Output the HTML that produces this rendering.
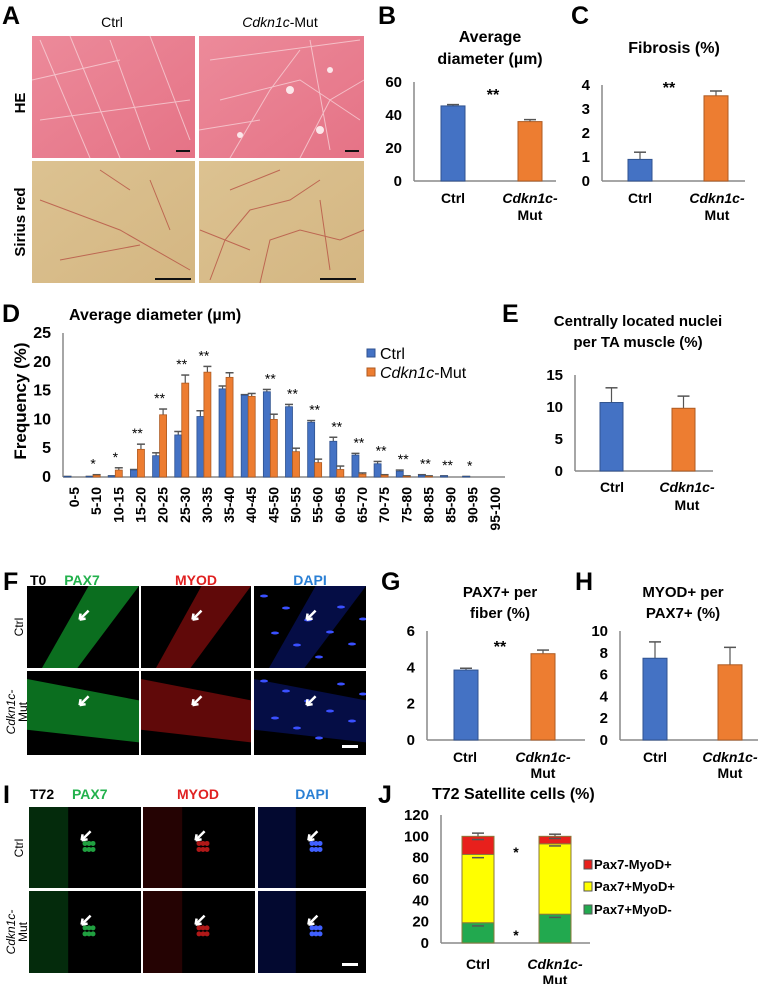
<!DOCTYPE html>
<html><head><meta charset="utf-8">
<style>
body{margin:0;background:#fff;}
svg{display:block;font-family:"Liberation Sans",Arial,sans-serif;}
.b{font-weight:bold;}
</style></head>
<body>
<svg id="fig" width="760" height="984" viewBox="0 0 760 984" xmlns="http://www.w3.org/2000/svg">
<defs>
<clipPath id="cpF1"><rect x="27" y="586" width="112" height="82"/></clipPath>
<linearGradient id="heg" x1="0" y1="0" x2="1" y2="1"><stop offset="0" stop-color="#ec8a9a"/><stop offset="1" stop-color="#e57386"/></linearGradient>
<linearGradient id="srg" x1="0" y1="0" x2="1" y2="1"><stop offset="0" stop-color="#dcc291"/><stop offset="1" stop-color="#d4b682"/></linearGradient>
</defs>

<!-- Panel A -->
<g>
<text x="2" y="24" font-size="25" class="b">A</text>
<text x="112" y="27" font-size="14" text-anchor="middle">Ctrl</text>
<text x="280" y="27" font-size="14" text-anchor="middle"><tspan font-style="italic">Cdkn1c</tspan>-Mut</text>
<text transform="translate(25,103) rotate(-90)" font-size="15" class="b" text-anchor="middle">HE</text>
<text transform="translate(25,222) rotate(-90)" font-size="15" class="b" text-anchor="middle">Sirius red</text>
<rect x="32" y="36" width="163" height="122" fill="url(#heg)"/>
<rect x="199" y="36" width="165" height="122" fill="url(#heg)"/>
<g stroke="#f7d0d6" stroke-width="1" fill="none" opacity="0.8">
<path d="M40 40 L90 158 M70 36 L120 158 M110 40 L150 150 M150 36 L190 140 M32 80 L120 60 M40 120 L190 100"/>
<path d="M210 60 L360 40 M220 100 L300 80 L360 120 M230 158 L270 90 L300 50 M300 158 L330 100 L364 80 M199 130 L260 120 M310 40 L330 150"/>
</g>
<g fill="#fbe7ea"><circle cx="290" cy="90" r="4"/><circle cx="240" cy="135" r="3"/><circle cx="320" cy="130" r="4"/><circle cx="330" cy="70" r="3"/></g>
<rect x="176" y="150" width="14" height="2" fill="#111"/>
<rect x="345" y="150" width="14" height="2" fill="#111"/>
<rect x="32" y="161" width="163" height="122" fill="url(#srg)"/>
<rect x="199" y="161" width="165" height="122" fill="url(#srg)"/>
<g stroke="#b2433a" stroke-width="1" fill="none" opacity="0.7">
<path d="M100 170 L130 190 M40 200 L120 230 L190 270 M60 260 L140 245 M150 180 L170 230"/>
<path d="M210 280 L225 240 L250 210 L290 200 L320 180 M260 283 L270 240 L300 230 L340 240 L364 230 M230 190 L280 170 M320 200 L330 270 M200 230 L250 250"/>
</g>
<rect x="155" y="278" width="36" height="2" fill="#111"/>
<rect x="320" y="278" width="36" height="2" fill="#111"/>
</g>

<!-- Panel B -->
<g>
<text x="378" y="24" font-size="25" class="b">B</text>
<text x="490" y="42" font-size="16" class="b" text-anchor="middle">Average</text>
<text x="490" y="64" font-size="16" class="b" text-anchor="middle">diameter (µm)</text>
<text x="493" y="100" font-size="16" class="b" text-anchor="middle">**</text>
<g id="chartB"></g>
<text x="453" y="203" font-size="14" class="b" text-anchor="middle">Ctrl</text>
<text x="530" y="203" font-size="14" class="b" text-anchor="middle" font-style="italic">Cdkn1c-</text>
<text x="530" y="220" font-size="14" class="b" text-anchor="middle">Mut</text>
</g>

<!-- Panel C -->
<g>
<text x="571" y="24" font-size="25" class="b">C</text>
<text x="674" y="53" font-size="16" class="b" text-anchor="middle">Fibrosis (%)</text>
<text x="669" y="93" font-size="16" class="b" text-anchor="middle">**</text>
<g id="chartC"></g>
<text x="640" y="203" font-size="14" class="b" text-anchor="middle">Ctrl</text>
<text x="717" y="203" font-size="14" class="b" text-anchor="middle" font-style="italic">Cdkn1c-</text>
<text x="717" y="220" font-size="14" class="b" text-anchor="middle">Mut</text>
</g>

<!-- Panel D -->
<g>
<text x="2" y="322" font-size="25" class="b">D</text>
<text x="69" y="320" font-size="16" class="b">Average diameter (µm)</text>
<text transform="translate(26,401) rotate(-90)" font-size="17" class="b" text-anchor="middle">Frequency (%)</text>
<g id="chartD"></g>
<rect x="367" y="349" width="8" height="8" fill="#4472c4" stroke="#2f528f"/>
<text x="380" y="359" font-size="16">Ctrl</text>
<rect x="367" y="368" width="8" height="8" fill="#ed7d31" stroke="#ae5a21"/>
<text x="380" y="378" font-size="16"><tspan font-style="italic">Cdkn1c</tspan>-Mut</text>
</g>

<!-- Panel E -->
<g>
<text x="502" y="322" font-size="25" class="b">E</text>
<text x="638" y="326" font-size="15" class="b" text-anchor="middle">Centrally located nuclei</text>
<text x="638" y="347" font-size="15" class="b" text-anchor="middle">per TA muscle (%)</text>
<g id="chartE"></g>
<text x="612" y="492" font-size="14" class="b" text-anchor="middle">Ctrl</text>
<text x="687" y="492" font-size="14" class="b" text-anchor="middle" font-style="italic">Cdkn1c-</text>
<text x="687" y="510" font-size="14" class="b" text-anchor="middle">Mut</text>
</g>

<!-- Panel F -->
<g>
<text x="3" y="590" font-size="25" class="b">F</text>
<text x="30" y="585" font-size="14" class="b">T0</text>
<text x="82" y="585" font-size="14" class="b" fill="#22b14c" text-anchor="middle">PAX7</text>
<text x="196" y="585" font-size="14" class="b" fill="#e02020" text-anchor="middle">MYOD</text>
<text x="310" y="585" font-size="14" class="b" fill="#2a7fd4" text-anchor="middle">DAPI</text>
<text transform="translate(23,627) rotate(-90)" font-size="12" text-anchor="middle">Ctrl</text>
<text transform="translate(15,712) rotate(-90)" font-size="12" text-anchor="middle" font-style="italic">Cdkn1c-</text>
<text transform="translate(27,712) rotate(-90)" font-size="12" text-anchor="middle">Mut</text>
<g id="imgF"></g>
</g>

<!-- Panel G -->
<g>
<text x="381" y="590" font-size="25" class="b">G</text>
<text x="500" y="597" font-size="15" class="b" text-anchor="middle">PAX7+ per</text>
<text x="500" y="618" font-size="15" class="b" text-anchor="middle">fiber (%)</text>
<text x="500" y="652" font-size="16" class="b" text-anchor="middle">**</text>
<g id="chartG"></g>
<text x="465" y="762" font-size="14" class="b" text-anchor="middle">Ctrl</text>
<text x="543" y="762" font-size="14" class="b" text-anchor="middle" font-style="italic">Cdkn1c-</text>
<text x="543" y="778" font-size="14" class="b" text-anchor="middle">Mut</text>
</g>

<!-- Panel H -->
<g>
<text x="575" y="590" font-size="25" class="b">H</text>
<text x="683" y="597" font-size="15" class="b" text-anchor="middle">MYOD+ per</text>
<text x="683" y="618" font-size="15" class="b" text-anchor="middle">PAX7+ (%)</text>
<g id="chartH"></g>
<text x="655" y="762" font-size="14" class="b" text-anchor="middle">Ctrl</text>
<text x="730" y="762" font-size="14" class="b" text-anchor="middle" font-style="italic">Cdkn1c-</text>
<text x="730" y="778" font-size="14" class="b" text-anchor="middle">Mut</text>
</g>

<!-- Panel I -->
<g>
<text x="3" y="803" font-size="25" class="b">I</text>
<text x="30" y="799" font-size="14" class="b">T72</text>
<text x="72" y="799" font-size="14" class="b" fill="#22b14c">PAX7</text>
<text x="198" y="799" font-size="14" class="b" fill="#e02020" text-anchor="middle">MYOD</text>
<text x="312" y="799" font-size="14" class="b" fill="#2a7fd4" text-anchor="middle">DAPI</text>
<text transform="translate(23,848) rotate(-90)" font-size="12" text-anchor="middle">Ctrl</text>
<text transform="translate(15,932) rotate(-90)" font-size="12" text-anchor="middle" font-style="italic">Cdkn1c-</text>
<text transform="translate(27,932) rotate(-90)" font-size="12" text-anchor="middle">Mut</text>
<g id="imgI"></g>
</g>

<!-- Panel J -->
<g>
<text x="378" y="803" font-size="25" class="b">J</text>
<text x="432" y="799" font-size="16" class="b">T72 Satellite cells (%)</text>
<g id="chartJ"></g>
<text x="516" y="857" font-size="14" class="b" text-anchor="middle">*</text>
<text x="516" y="940" font-size="14" class="b" text-anchor="middle">*</text>
<text x="478" y="969" font-size="14" class="b" text-anchor="middle">Ctrl</text>
<text x="555" y="969" font-size="14" class="b" text-anchor="middle" font-style="italic">Cdkn1c-</text>
<text x="555" y="985" font-size="14" class="b" text-anchor="middle">Mut</text>
<rect x="584" y="860" width="8" height="9" fill="#e8201c" stroke="#555"/>
<text x="594" y="869" font-size="13" class="b">Pax7-MyoD+</text>
<rect x="584" y="882" width="8" height="9" fill="#ffff00" stroke="#555"/>
<text x="594" y="891" font-size="13" class="b">Pax7+MyoD+</text>
<rect x="584" y="905" width="8" height="9" fill="#22a94f" stroke="#555"/>
<text x="594" y="914" font-size="13" class="b">Pax7+MyoD-</text>
</g>
</svg>

<script>
// ---- data ----
const groups = ["Ctrl", "Cdkn1c-Mut"];
const bValues = [45.5, 36];
const bErrors = [0.8, 1.2];
const bTicks = [0, 20, 40, 60];
const cValues = [0.9, 3.55];
const cErrors = [0.3, 0.2];
const cTicks = [0, 1, 2, 3, 4];
const dCategories = ["0-5","5-10","10-15","15-20","20-25","25-30","30-35","35-40","40-45","45-50","50-55","55-60","60-65","65-70","70-75","75-80","80-85","85-90","90-95","95-100"];
const dCtrl = [0.1,0.1,0.2,1.2,3.7,7.3,10.5,15.3,14.2,14.8,12.2,9.5,6.2,3.8,2.3,1.0,0.3,0.2,0.1,0];
const dCtrlErr = [0,0,0,0.1,0.5,0.6,1.0,0.5,0.1,0.4,0.4,0.3,0.7,0.3,0.4,0.2,0.1,0,0,0];
const dMut = [0,0.3,1.2,4.8,10.8,16.3,18.2,17.3,14.0,10.0,4.4,2.5,1.3,0.5,0.3,0.1,0.1,0,0,0];
const dMutErr = [0,0.1,0.4,0.9,1.0,1.4,1.0,0.8,0.5,0.9,0.6,0.6,0.6,0.2,0.1,0.1,0.1,0,0,0];
const dStars = ["","*","*","**","**","**","**","","","**","**","**","**","**","**","**","**","**","*",""];
const dTicks = [0,5,10,15,20,25];
const eValues = [10.7, 9.8];
const eErrors = [2.3, 1.9];
const eTicks = [0,5,10,15];
const gValues = [3.85, 4.75];
const gErrors = [0.1, 0.2];
const gTicks = [0,2,4,6];
const hValues = [7.5, 6.9];
const hErrors = [1.5, 1.6];
const hTicks = [0,2,4,6,8,10];
const jGreen = [19, 27];
const jYellow = [64, 66];
const jRed = [17, 7];
const jGreenErr = [3, 3];
const jYellowErr = [3, 2];
const jRedErr = [3, 2];
const jTicks = [0,20,40,60,80,100,120];

const NS = "http://www.w3.org/2000/svg";
function mk(parent, tag, attrs){
  const el = document.createElementNS(NS, tag);
  for (const k in attrs) el.setAttribute(k, attrs[k]);
  parent.appendChild(el);
  return el;
}
const COLORS = ["#4472c4", "#ed7d31"];
const STROKES = ["#2f528f", "#ae5a21"];

function axes(g, x0, x1, y0, y1, ticks, fs){
  const max = ticks[ticks.length-1];
  const sy = v => y0 - (v / max) * (y0 - y1);
  let a = mk(g, "line", {x1:x0, y1:y1, x2:x0, y2:y0, stroke:"#888", "stroke-width":1.5});
  
  
  let b = mk(g, "line", {x1:x0, y1:y0, x2:x1, y2:y0, stroke:"#888", "stroke-width":1.5});
  
  
  ticks.forEach(t => {
    const tx = mk(g, "text", {x:x0-12, y:sy(t)+5, "font-size":fs, "font-weight":"bold", "text-anchor":"end"});
    tx.textContent = t;
    
    
  });
  return sy;
}
function errbar(g, cx, yv, ye, hw){
  mk(g, "line", {x1:cx, y1:yv, x2:cx, y2:ye, stroke:"#555", "stroke-width":1.2});
  mk(g, "line", {x1:cx-hw, y1:ye, x2:cx+hw, y2:ye, stroke:"#555", "stroke-width":1.5});
}
function simpleChart(id, x0, x1, y0, y1, ticks, vals, errs, lefts, w){
  const g = document.getElementById(id);
  const sy = axes(g, x0, x1, y0, y1, ticks, 15);
  vals.forEach((v, i) => {
    const cx = lefts[i] + w/2;
    errbar(g, cx, sy(v), sy(v + errs[i]), 6);
    const r = mk(g, "rect", {x:lefts[i], y:sy(v), width:w, height:y0 - sy(v), fill:COLORS[i], stroke:STROKES[i], "stroke-width":1});
    
    
  });
}
simpleChart("chartB", 414, 556, 181, 82, bTicks, bValues, bErrors, [441, 518], 24);
simpleChart("chartC", 602, 745, 181, 85, cTicks, cValues, cErrors, [628, 704], 24);
simpleChart("chartE", 575, 713, 471, 375, eTicks, eValues, eErrors, [600, 672], 23);
simpleChart("chartG", 427, 585, 740, 631, gTicks, gValues, gErrors, [454, 531], 24);
simpleChart("chartH", 620, 758, 740, 631, hTicks, hValues, hErrors, [643, 718], 24);

// Chart D
(function(){
  const g = document.getElementById("chartD");
  const x0 = 63, y0 = 477, y1 = 333;
  const sy = axes(g, x0, 505, y0, y1, dTicks, 16);
  const step = 22.15, c0 = 74;
  dCategories.forEach((cat, i) => {
    const c = c0 + i * step;
    const series = [[dCtrl, dCtrlErr, c-10], [dMut, dMutErr, c-3]];
    let top = y0;
    series.forEach((s, k) => {
      const v = s[0][i], e = s[1][i], xl = s[2];
      if (v > 0) {
        errbar(g, xl+3.5, sy(v), sy(v+e), 4);
        const r = mk(g, "rect", {x:xl, y:sy(v), width:7, height:y0-sy(v), fill:COLORS[k], stroke:STROKES[k], "stroke-width":0.8});
        
        
      }
      top = Math.min(top, sy(v+e));
    });
    if (dStars[i]) {
      const t = mk(g, "text", {x:c-3, y:top-6, "font-size":14, "text-anchor":"middle"});
      t.textContent = dStars[i];
      
      
    }
    const lb = mk(g, "text", {transform:"translate("+(c+5)+",487) rotate(-90)", "font-size":14, "font-weight":"bold", "text-anchor":"end"});
    lb.textContent = cat;
    
    
  });
})();

// Chart J
(function(){
  const g = document.getElementById("chartJ");
  const y0 = 943;
  const sy = axes(g, 441, 590, y0, 815, jTicks, 15);
  const lefts = [462, 539], w = 32;
  const layers = [[jGreen, jGreenErr, "#22a94f", "green"], [jYellow, jYellowErr, "#ffff00", "yellow"], [jRed, jRedErr, "#e8201c", "red"]];
  groups.forEach((grp, i) => {
    let base = 0;
    layers.forEach(L => {
      const v = L[0][i];
      const r = mk(g, "rect", {x:lefts[i], y:sy(base+v), width:w, height:sy(base)-sy(base+v), fill:L[2], stroke:"#8a7a3a", "stroke-width":1});
      
      
      base += v;
      errbar(g, lefts[i]+w/2, sy(base), sy(base+L[1][i]), 6);
      mk(g, "line", {x1:lefts[i]+w/2-6, y1:sy(base-L[1][i]), x2:lefts[i]+w/2+6, y2:sy(base-L[1][i]), stroke:"#555", "stroke-width":1.5});
    });
  });
})();

// Micrographs F and I
function micro(id, cols, rows, kind){
  const g = document.getElementById(id);
  const tints = [["#0c7a22","#20a040"],["#6a0a0a","#b01818"],["#0a1a8a","#4060ff"]];
  rows.forEach((rw, r) => {
    cols.forEach((cl, c) => {
      const x = cl[0], y = rw[0], w = cl[1]-cl[0], h = rw[1]-rw[0];
      const bg = mk(g, "rect", {x:x, y:y, width:w, height:h, fill:"#000"});
      
      
      const cid = id + "c" + r + c;
      const cp = mk(g, "clipPath", {id:cid});
      mk(cp, "rect", {x:x, y:y, width:w, height:h});
      const gg = mk(g, "g", {"clip-path":"url(#"+cid+")"});
      if (kind === "F") {
        const pts = r === 0 ? [[x+15,y+h],[x+w*0.55,y],[x+w,y],[x+w*0.45,y+h]] : [[x,y+8],[x+w,y+h*0.35],[x+w,y+h*0.85],[x,y+h*0.7]];
        mk(gg, "polygon", {points:pts.map(p=>p.join(",")).join(" "), fill:tints[c][0], opacity:c===2?0.5:0.9});
        if (c === 2) for (let k = 0; k < 10; k++) mk(gg, "ellipse", {cx:x+10+k*11, cy:y+10+((k*37)%(h-20)), rx:4, ry:1.5, fill:"#3a50ff"});
      } else {
        mk(gg, "rect", {x:x, y:y, width:w*0.35, height:h, fill:tints[c][0], opacity:0.35});
        for (let k = 0; k < 6; k++) mk(gg, "circle", {cx:x+w*0.5+(k%3)*4, cy:y+h*0.45+Math.floor(k/3)*6, r:2.5, fill:tints[c][1]});
      }
      mk(gg, "path", {d:"M"+(x+w*0.55)+" "+(y+h*0.3)+" l-9 9 m0 0 l1 -6 m-1 6 l6 -1", stroke:"#fff", "stroke-width":2.5, fill:"none"});
    });
  });
  const last = cols[cols.length-1], lr = rows[rows.length-1];
  mk(g, "rect", {x:last[1]-24, y:lr[1]-10, width:16, height:3, fill:"#fff"});
}
micro("imgF", [[27,139],[141,251],[254,366]], [[586,668],[671,755]], "F");
micro("imgI", [[29,141],[143,255],[258,366]], [[807,888],[891,973]], "I");
</script>
</body></html>
